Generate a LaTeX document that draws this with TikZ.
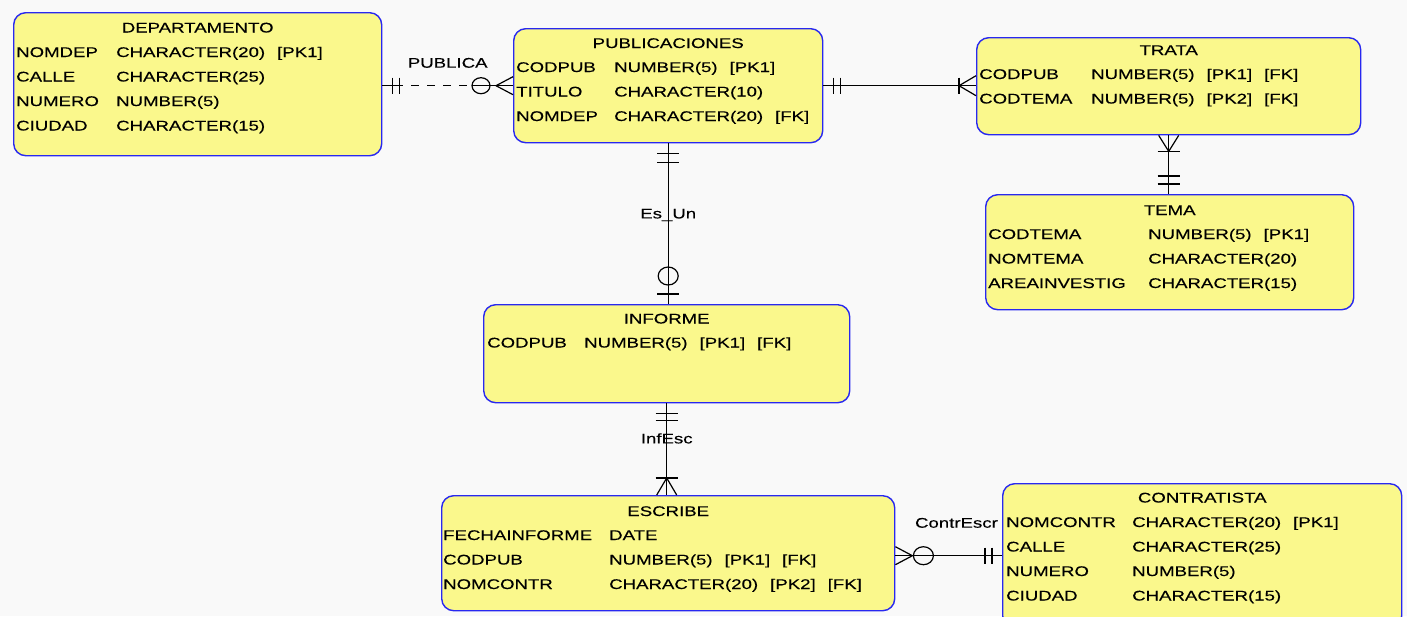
\documentclass[tikz,border=0pt]{standalone}
\usepackage{fontspec}
\setmainfont{Liberation Sans}
\newfontfamily\erfont[FakeStretch=1.33,FakeBold=0.25]{Liberation Sans}
\usetikzlibrary{calc}
\definecolor{bg}{RGB}{249,249,249}
\definecolor{boxfill}{RGB}{250,248,140}
\definecolor{boxline}{RGB}{40,40,240}
\newcommand{\gap}{\hspace{12pt}}
\tikzset{
  tbl/.style={draw=boxline, fill=boxfill, line width=1.4pt, rounded corners=12pt,
              anchor=north west, inner sep=0pt},
  ttl/.style={anchor=base, inner sep=0pt, font=\erfont\fontsize{14}{16}\selectfont},
  fld/.style={anchor=base west, inner sep=0pt, font=\erfont\fontsize{14}{16}\selectfont},
  lbl/.style={inner sep=0pt, font=\erfont\fontsize{14}{16}\selectfont},
  rel/.style={line width=1.2pt, draw=black},
}
\begin{document}
\begin{tikzpicture}[x=1pt, y=-1pt]
\useasboundingbox (0,0) rectangle (1407,616);
\clip (0,0) rectangle (1407,616);
\fill[bg] (0,0) rectangle (1407,616);

% ---------- tables ----------
\node[tbl, minimum width=368pt, minimum height=143pt] (dep) at (13,12) {};
\node[tbl, minimum width=309pt, minimum height=114pt] (pub) at (513,28) {};
\node[tbl, minimum width=384pt, minimum height=97pt]  (tra) at (976,37) {};
\node[tbl, minimum width=368pt, minimum height=115pt] (tem) at (985,194) {};
\node[tbl, minimum width=366pt, minimum height=98pt]  (inf) at (483,304) {};
\node[tbl, minimum width=453pt, minimum height=115pt] (esc) at (441,495) {};
\node[tbl, minimum width=399pt, minimum height=144pt] (con) at (1002,483) {};

% DEPARTAMENTO
\node[ttl] (depT) at ($(dep.north)+(0,20.5)$) {DEPARTAMENTO};
\node[fld] (depA1) at ($(dep.north west)+(3,45)$)  {NOMDEP};
\node[fld] (depB1) at ($(dep.north west)+(103,45)$) {CHARACTER(20)\gap[PK1]};
\node[fld] (depA2) at ($(dep.north west)+(3,69.5)$)  {CALLE};
\node[fld] (depB2) at ($(dep.north west)+(103,69.5)$) {CHARACTER(25)};
\node[fld] (depA3) at ($(dep.north west)+(3,94)$)  {NUMERO};
\node[fld] (depB3) at ($(dep.north west)+(103,94)$) {NUMBER(5)};
\node[fld] (depA4) at ($(dep.north west)+(3,118.5)$)  {CIUDAD};
\node[fld] (depB4) at ($(dep.north west)+(103,118.5)$) {CHARACTER(15)};

% PUBLICACIONES
\node[ttl] (pubT) at ($(pub.north)+(0,20)$) {PUBLICACIONES};
\node[fld] (pubA1) at ($(pub.north west)+(3,44)$)  {CODPUB};
\node[fld] (pubB1) at ($(pub.north west)+(101,44)$) {NUMBER(5)\gap[PK1]};
\node[fld] (pubA2) at ($(pub.north west)+(3,68.5)$)  {TITULO};
\node[fld] (pubB2) at ($(pub.north west)+(101,68.5)$) {CHARACTER(10)};
\node[fld] (pubA3) at ($(pub.north west)+(3,93)$)  {NOMDEP};
\node[fld] (pubB3) at ($(pub.north west)+(101,93)$) {CHARACTER(20)\gap[FK]};

% TRATA
\node[ttl] (traT) at ($(tra.north)+(0,18)$) {TRATA};
\node[fld] (traA1) at ($(tra.north west)+(3,42)$)  {CODPUB};
\node[fld] (traB1) at ($(tra.north west)+(115,42)$) {NUMBER(5)\gap[PK1]\gap[FK]};
\node[fld] (traA2) at ($(tra.north west)+(3,66.5)$)  {CODTEMA};
\node[fld] (traB2) at ($(tra.north west)+(115,66.5)$) {NUMBER(5)\gap[PK2]\gap[FK]};

% TEMA
\node[ttl] (temT) at ($(tem.north)+(0,21)$) {TEMA};
\node[fld] (temA1) at ($(tem.north west)+(3,45)$)  {CODTEMA};
\node[fld] (temB1) at ($(tem.north west)+(163,45)$) {NUMBER(5)\gap[PK1]};
\node[fld] (temA2) at ($(tem.north west)+(3,69.5)$)  {NOMTEMA};
\node[fld] (temB2) at ($(tem.north west)+(163,69.5)$) {CHARACTER(20)};
\node[fld] (temA3) at ($(tem.north west)+(3,94)$)  {AREAINVESTIG};
\node[fld] (temB3) at ($(tem.north west)+(163,94)$) {CHARACTER(15)};

% INFORME
\node[ttl] (infT) at ($(inf.north)+(0,19.5)$) {INFORME};
\node[fld] (infA1) at ($(inf.north west)+(4,43.5)$)  {CODPUB};
\node[fld] (infB1) at ($(inf.north west)+(101,43.5)$) {NUMBER(5)\gap[PK1]\gap[FK]};

% ESCRIBE
\node[ttl] (escT) at ($(esc.north)+(0,21)$) {ESCRIBE};
\node[fld] (escA1) at ($(esc.north west)+(2,45)$)  {FECHAINFORME};
\node[fld] (escB1) at ($(esc.north west)+(168,45)$) {DATE};
\node[fld] (escA2) at ($(esc.north west)+(2,69.5)$)  {CODPUB};
\node[fld] (escB2) at ($(esc.north west)+(168,69.5)$) {NUMBER(5)\gap[PK1]\gap[FK]};
\node[fld] (escA3) at ($(esc.north west)+(2,94)$)  {NOMCONTR};
\node[fld] (escB3) at ($(esc.north west)+(168,94)$) {CHARACTER(20)\gap[PK2]\gap[FK]};

% CONTRATISTA
\node[ttl] (conT) at ($(con.north)+(0,19.5)$) {CONTRATISTA};
\node[fld] (conA1) at ($(con.north west)+(4,44)$)  {NOMCONTR};
\node[fld] (conB1) at ($(con.north west)+(130,44)$) {CHARACTER(20)\gap[PK1]};
\node[fld] (conA2) at ($(con.north west)+(4,68.5)$)  {CALLE};
\node[fld] (conB2) at ($(con.north west)+(130,68.5)$) {CHARACTER(25)};
\node[fld] (conA3) at ($(con.north west)+(4,93)$)  {NUMERO};
\node[fld] (conB3) at ($(con.north west)+(130,93)$) {NUMBER(5)};
\node[fld] (conA4) at ($(con.north west)+(4,117.5)$)  {CIUDAD};
\node[fld] (conB4) at ($(con.north west)+(130,117.5)$) {CHARACTER(15)};

% ---------- relationships ----------
% PUBLICA (dashed)
\coordinate (c1a) at (dep.east |- pub.west);
\coordinate (c1b) at (pub.west);
\draw[rel] (c1a) -- ($(c1a)+(21,0)$);
\draw[rel, dash pattern=on 8pt off 8pt] ($(c1a)+(29,0)$) -- ($(c1b)+(-41,0)$);
\draw[rel] ($(c1b)+(-41,0)$) -- (c1b);
\draw[rel] ($(c1a)+(10,-8)$) -- ($(c1a)+(10,8)$)
           ($(c1a)+(17,-8)$) -- ($(c1a)+(17,8)$);
\draw[rel] ($(c1b)+(0,-9)$) -- ($(c1b)+(-17,0)$) -- ($(c1b)+(0,9)$);
\draw[rel] ($(c1b)+(-32,0)$) ellipse [x radius=9pt, y radius=8pt];
\node[lbl, anchor=base] (l1) at ($(c1a)!0.5!(c1b)+(0,-18)$) {PUBLICA};

% PUBLICACIONES - TRATA
\coordinate (c2a) at (pub.east);
\coordinate (c2b) at (pub.east -| tra.west);
\draw[rel] (c2a) -- (c2b);
\draw[rel] ($(c2a)+(10,-8)$) -- ($(c2a)+(10,8)$)
           ($(c2a)+(17,-8)$) -- ($(c2a)+(17,8)$);
\draw[rel] ($(c2b)+(0,-10)$) -- ($(c2b)+(-17,0)$) -- ($(c2b)+(0,10)$);
\draw[rel] ($(c2b)+(-17,-8)$) -- ($(c2b)+(-17,8)$);

% Es_Un
\coordinate (c3a) at (pub.south);
\coordinate (c3b) at (pub.south |- inf.north);
\draw[rel] (c3a) -- (c3b);
\draw[rel] ($(c3a)+(-11,10)$) -- ($(c3a)+(11,10)$)
           ($(c3a)+(-11,19)$) -- ($(c3a)+(11,19)$);
\draw[rel] ($(c3b)+(-11,-10)$) -- ($(c3b)+(11,-10)$);
\draw[rel] ($(c3b)+(0,-28)$) ellipse [x radius=10pt, y radius=9pt];
\node[lbl, anchor=base] (l3) at ($(c3a)+(0,75)$) {Es\_Un};

% InfEsc
\coordinate (c4a) at (inf.south);
\coordinate (c4b) at (inf.south |- esc.north);
\draw[rel] (c4a) -- (c4b);
\draw[rel] ($(c4a)+(-11,10)$) -- ($(c4a)+(11,10)$)
           ($(c4a)+(-11,17)$) -- ($(c4a)+(11,17)$);
\draw[rel] ($(c4b)+(-10,0)$) -- ($(c4b)+(0,-17)$) -- ($(c4b)+(10,0)$);
\draw[rel] ($(c4b)+(-11,-17)$) -- ($(c4b)+(11,-17)$);
\node[lbl, anchor=base] (l4) at ($(c4a)+(0,40)$) {InfEsc};

% TRATA - TEMA
\coordinate (c5a) at (tra.south);
\coordinate (c5b) at (tra.south |- tem.north);
\draw[rel] (c5a) -- (c5b);
\draw[rel] ($(c5a)+(-10,0)$) -- ($(c5a)+(0,16)$) -- ($(c5a)+(10,0)$);
\draw[rel] ($(c5a)+(-11,16)$) -- ($(c5a)+(11,16)$);
\draw[rel] ($(c5b)+(-11,-10)$) -- ($(c5b)+(11,-10)$)
           ($(c5b)+(-11,-18)$) -- ($(c5b)+(11,-18)$);

% ContrEscr
\coordinate (c6a) at (esc.east |- con.west);
\coordinate (c6b) at (con.west);
\draw[rel] (c6a) -- (c6b);
\draw[rel] ($(c6a)+(0,-9)$) -- ($(c6a)+(17,0)$) -- ($(c6a)+(0,9)$);
\draw[rel] ($(c6a)+(28,0)$) ellipse [x radius=10pt, y radius=9pt];
\draw[rel] ($(c6b)+(-10,-8)$) -- ($(c6b)+(-10,8)$)
           ($(c6b)+(-17,-8)$) -- ($(c6b)+(-17,8)$);
\node[lbl, anchor=base east] (l6) at ($(c6b)+(-4,-28)$) {ContrEscr};
\end{tikzpicture}
\end{document}
